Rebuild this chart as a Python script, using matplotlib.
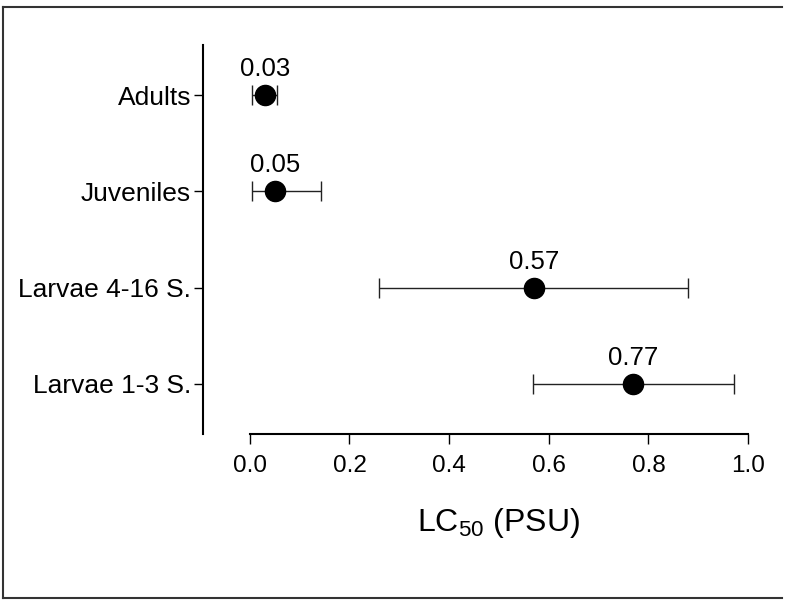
import numpy as np
import matplotlib
matplotlib.use('Agg')
from matplotlib import pyplot as plt
from matplotlib.lines import Line2D

plt.rcParams['font.family'] = ['Liberation Sans', 'DejaVu Sans']
plt.rcParams['mathtext.fontset'] = 'custom'
plt.rcParams['mathtext.rm'] = 'Liberation Sans'
plt.rcParams['mathtext.it'] = 'Liberation Sans'

# LC50 per life stage, with lower / upper confidence limits
stages = ['Adults', 'Juveniles', 'Larvae 4-16 S.', 'Larvae 1-3 S.']
lc50 = [0.03, 0.05, 0.57, 0.77]
ci_low = [0.005, 0.005, 0.259, 0.568]
ci_high = [0.054, 0.143, 0.879, 0.971]
x_ticks = [0.0, 0.2, 0.4, 0.6, 0.8, 1.0]

fig = plt.figure(figsize=(7.85, 6.01), dpi=100)
ax = fig.add_axes([0.2586, 0.2779, 0.707, 0.6473])

y_pos = np.arange(len(stages))[::-1] + 1
lc50 = np.array(lc50)
err = [lc50 - np.array(ci_low), np.array(ci_high) - lc50]

ax.errorbar(lc50, y_pos, xerr=err, fmt='none', ecolor='#222222', elinewidth=1.0,
            capsize=7, capthick=1.0, zorder=2)
ax.plot(lc50, y_pos, 'o', color='black', markersize=14.5, zorder=3)

for x, y in zip(lc50, y_pos):
    ax.annotate(f'{x:.2f}', (x, y), xytext=(0, 10), textcoords='offset points',
                ha='center', va='bottom', fontsize=18.5)

ax.set_xlim(-0.094, 1.02)
ax.set_ylim(0.48, 4.52)
ax.set_yticks(y_pos)
ax.set_yticklabels(stages)
ax.set_xticks(x_ticks)
ax.set_xticklabels([f'{t:.1f}' for t in x_ticks])

for side in ['top', 'right']:
    ax.spines[side].set_visible(False)
ax.spines['bottom'].set_bounds(0.0, 1.0)
ax.spines['bottom'].set_position(('data', 0.48))
ax.spines['left'].set_linewidth(1.5)
ax.spines['bottom'].set_linewidth(1.5)

ax.tick_params(axis='y', length=6.5, width=1.0, pad=2, labelsize=19)
ax.tick_params(axis='x', length=7, width=1.0, pad=8, labelsize=17.5)

ax.set_xlabel('LC$_{50}$ (PSU)', fontsize=23)
x_mid = ax.transAxes.inverted().transform(ax.transData.transform((0.5, 1)))[0]
ax.xaxis.set_label_coords(x_mid, -0.185)

# outer frame (open on the right)
frame_kw = dict(color='#333333', linewidth=1.5, transform=fig.transFigure)
fig.add_artist(Line2D([3 / 785, 782 / 785], [1 - 7 / 601, 1 - 7 / 601], **frame_kw))
fig.add_artist(Line2D([3 / 785, 3 / 785], [1 - 7 / 601, 1 - 598 / 601], **frame_kw))
fig.add_artist(Line2D([3 / 785, 782 / 785], [1 - 598 / 601, 1 - 598 / 601], **frame_kw))

fig.savefig('out.png', dpi=100)
